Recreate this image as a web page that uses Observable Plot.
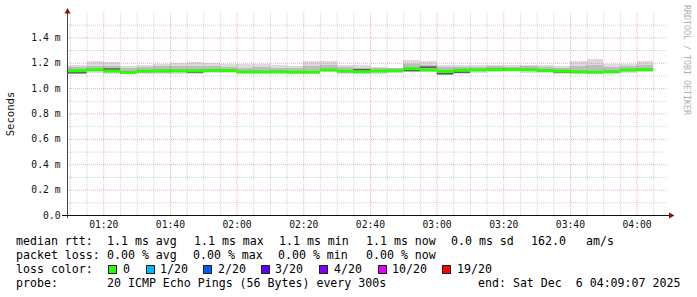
<!DOCTYPE html>
<html><head><meta charset="utf-8">
<script src="https://cdn.jsdelivr.net/npm/d3@7"></script>
<script src="https://cdn.jsdelivr.net/npm/@observablehq/plot@0.6"></script>
<style>
body{margin:0;background:#fff;}
#wrap{position:relative;width:697px;height:297px;overflow:hidden;background:#fff;}
#chart{position:absolute;left:0;top:0;}
.lg{position:absolute;font-family:"DejaVu Sans Mono",monospace;font-size:11.6px;line-height:14px;white-space:pre;color:#000;}
.box{position:absolute;width:9px;height:9px;border:1px solid #222;box-sizing:border-box;}
</style></head><body><div id="wrap"><div id="chart"></div></div>
<script>
// ---- data ----
const slotStarts = ["01:05","01:10","01:15","01:20","01:25","01:30","01:35","01:40","01:45","01:50","01:55",
  "02:00","02:05","02:10","02:15","02:20","02:25","02:30","02:35","02:40","02:45","02:50","02:55",
  "03:00","03:05","03:10","03:15","03:20","03:25","03:30","03:35","03:40","03:45","03:50","03:55","04:00"];
const median   = [1.141,1.141,1.149,1.138,1.128,1.138,1.141,1.140,1.140,1.143,1.143,1.132,1.132,1.133,1.129,1.129,1.147,1.138,1.133,1.138,1.141,1.157,1.147,1.136,1.145,1.147,1.151,1.150,1.149,1.143,1.138,1.132,1.129,1.134,1.146,1.150];
const smokeMax = [1.180,1.180,1.212,1.206,1.175,1.186,1.194,1.198,1.206,1.198,1.194,1.188,1.188,1.180,1.175,1.212,1.212,1.180,1.180,1.168,1.162,1.220,1.212,1.180,1.186,1.186,1.180,1.180,1.186,1.180,1.175,1.212,1.227,1.194,1.188,1.212];
const smokeMin = [1.115,1.115,1.120,1.115,1.108,1.109,1.109,1.115,1.115,1.120,1.123,1.109,1.109,1.115,1.109,1.115,1.128,1.109,1.115,1.115,1.120,1.136,1.128,1.102,1.109,1.120,1.128,1.133,1.123,1.120,1.115,1.108,1.108,1.115,1.123,1.128];
const innerHi  = [1.165,1.165,1.178,1.172,1.160,1.168,1.172,1.175,1.178,1.172,1.170,1.162,1.165,1.162,1.158,1.175,1.180,1.165,1.162,1.160,1.160,1.190,1.182,1.165,1.170,1.170,1.172,1.170,1.172,1.165,1.160,1.175,1.185,1.170,1.172,1.180];
const innerLo  = [1.124,1.124,1.132,1.124,1.116,1.120,1.122,1.124,1.124,1.130,1.132,1.118,1.118,1.122,1.117,1.120,1.135,1.120,1.122,1.124,1.128,1.142,1.135,1.112,1.122,1.132,1.138,1.140,1.134,1.130,1.124,1.118,1.116,1.122,1.132,1.136];
const coreLine = [1.125,1.125,null,1.154,null,null,null,null,1.130,null,null,null,null,null,null,null,null,null,1.148,null,null,1.141,1.169,1.117,1.130,null,null,1.146,null,null,1.131,null,null,null,null,null];

const yTicks = [0,0.2,0.4,0.6,0.8,1.0,1.2,1.4];
const yTickLabels = ["0.0","0.2 m","0.4 m","0.6 m","0.8 m","1.0 m","1.2 m","1.4 m"];
const yMinor = [0.1,0.3,0.5,0.7,0.9,1.1,1.3,1.5];
const xTickLabels = ["01:20","01:40","02:00","02:20","02:40","03:00","03:20","03:40","04:00"];

const lossLabels = ["0","1/20","2/20","3/20","4/20","10/20","19/20"];
const lossColors = ["#26ff00","#00b8ff","#0059ff","#5e00ff","#7e00ff","#dd00ff","#ff0000"];
const rttStats  = ["1.1 ms avg","1.1 ms max","1.1 ms min","1.1 ms now","0.0 ms sd","162.0","am/s"];
const lossStats = ["0.00 % avg","0.00 % max","0.00 % min","0.00 % now"];
const probeText = "20 ICMP Echo Pings (56 Bytes) every 300s";
const endText = "end: Sat Dec  6 04:09:07 2025";

// ---- build ----
const T = s => new Date(`2025-12-06T${s}Z`);
const domainStart = T("01:09:07"), domainEnd = T("04:09:07");
const rows = slotStarts.map((s,i)=>{
  const st = T(s+":00");
  return {start:st, end:new Date(st.getTime()+300000), med:median[i], lo:smokeMin[i], hi:smokeMax[i], ilo:innerLo[i], ihi:innerHi[i], core:coreLine[i]};
});
const xTicks = xTickLabels.map(s=>T(s+":00"));
const xMinor = d3.utcMinute.every(5).range(domainStart, domainEnd).filter(d=>d.getUTCMinutes()%20!==0);

const chart = Plot.plot({
  width:697, height:234, marginLeft:67, marginRight:30, marginTop:12, marginBottom:19,
  style:{fontFamily:"'DejaVu Sans Mono', monospace", fontSize:"9.7px", background:"transparent", color:"#111", overflow:"visible"},
  x:{type:"utc", domain:[domainStart, domainEnd]},
  y:{domain:[0,1.6]},
  marks:[
    Plot.rect(rows,{x1:"start",x2:"end",y1:"lo",y2:"hi",fill:"#dcdcdc",clip:true,shapeRendering:"crispEdges"}),
    Plot.rect(rows,{x1:"start",x2:"end",y1:"ilo",y2:"ihi",fill:"#bdbdbd",clip:true,shapeRendering:"crispEdges"}),
    Plot.ruleY(rows.filter(d=>d.core!=null),{y:"core",x1:"start",x2:"end",stroke:"#555",strokeWidth:1.5,clip:true}),
    Plot.ruleY(rows,{y:"med",x1:"start",x2:"end",stroke:lossColors[0],strokeWidth:3,clip:true}),
    Plot.gridY(yMinor,{stroke:"#888",strokeOpacity:0.38,strokeDasharray:"1,1"}),
    Plot.gridY(yTicks.filter(v=>v>0),{stroke:"#e03030",strokeOpacity:0.38,strokeDasharray:"1,1"}),
    Plot.gridX(xMinor,{stroke:"#888",strokeOpacity:0.38,strokeDasharray:"1,1"}),
    Plot.gridX(xTicks,{stroke:"#e03030",strokeOpacity:0.38,strokeDasharray:"1,1"}),
    Plot.axisY(yTicks,{tickSize:0,tickPadding:7,tickFormat:d=>yTickLabels[yTicks.indexOf(d)],fill:"#111"}),
    Plot.axisX(xTicks,{tickSize:0,tickPadding:6,tickFormat:d3.utcFormat("%H:%M"),fill:"#111"})
  ]
});
document.getElementById("chart").appendChild(chart);

// decorations: axis lines, arrows, labels
const svg = d3.select(chart);
svg.append("line").attr("x1",67.5).attr("x2",67.5).attr("y1",12).attr("y2",218).attr("stroke","#444");
svg.append("line").attr("x1",62).attr("x2",670).attr("y1",215.5).attr("y2",215.5).attr("stroke","#111");
svg.append("polygon").attr("points","64.5,13.5 67.5,8 70.5,13.5").attr("fill","#8b1010");
svg.append("polygon").attr("points","669,212.5 674.5,215.5 669,218.5").attr("fill","#8b1010");
svg.append("text").attr("transform","translate(11,114) rotate(-90)").attr("text-anchor","middle")
  .attr("dominant-baseline","middle").attr("font-family","'DejaVu Sans Mono', monospace").attr("font-size","10.6px")
  .attr("fill","#111").text("Seconds");
svg.append("text").attr("transform","translate(686,5) rotate(90)").attr("text-anchor","start")
  .attr("dominant-baseline","middle").attr("font-family","'DejaVu Sans Mono', monospace").attr("font-size","8.3px")
  .attr("fill","#b0b0b0").text("RRDTOOL / TOBI OETIKER");

// legend
const wrap = document.getElementById("wrap");
function span(txt,x,line){const e=document.createElement("div");e.className="lg";e.textContent=txt;e.style.left=x+"px";e.style.top=(234+14*line)+"px";wrap.appendChild(e);}
span("median rtt:",16,0);
[107,194,279,366,451,531,586].forEach((x,i)=>span(rttStats[i],x,0));
span("packet loss:",16,1);
[107,193,278,366].forEach((x,i)=>span(lossStats[i],x,1));
span("loss color:",16,2);
const boxX=[108,146,203,261,319,378,442], labX=[123,160,218,275,334,392,457];
lossLabels.forEach((l,i)=>{const b=document.createElement("div");b.className="box";b.style.left=boxX[i]+"px";b.style.top="265px";b.style.background=lossColors[i];wrap.appendChild(b);span(l,labX[i],2);});
span("probe:",16,3);
span(probeText,107,3);
span(endText,478,3);
</script></body></html>
